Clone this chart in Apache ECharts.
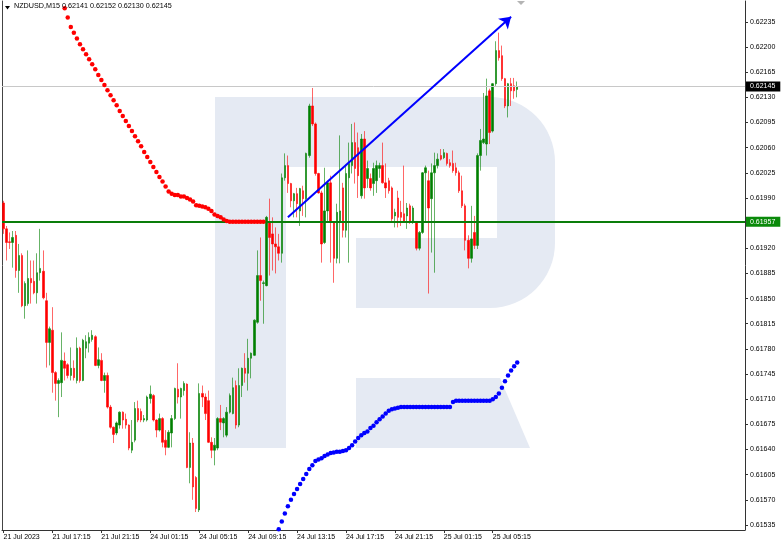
<!DOCTYPE html>
<html><head><meta charset="utf-8">
<script src="https://cdn.jsdelivr.net/npm/echarts@6/dist/echarts.min.js"></script>
<style>html,body{margin:0;padding:0;background:#fff}#c{width:782px;height:546px}</style>
</head><body><div id="c"></div>
<script>
const symbolName = 'NZDUSD,M15';
const lastQuote = ['0.62141', '0.62152', '0.62130', '0.62145'];
const xTickLabels = ['21 Jul 2023','21 Jul 17:15','21 Jul 21:15','24 Jul 01:15','24 Jul 05:15','24 Jul 09:15','24 Jul 13:15','24 Jul 17:15','24 Jul 21:15','25 Jul 01:15','25 Jul 05:15'];
const yTickLabels = [0.61535,0.61570,0.61605,0.61640,0.61675,0.61710,0.61745,0.61780,0.61815,0.61850,0.61885,0.61920,0.61990,0.62025,0.62060,0.62095,0.62130,0.62165,0.62200,0.62235];

const open = [0.61983,0.61947,0.61929,0.61928,0.61938,0.61889,0.61910,0.61840,0.61843,0.61878,0.61874,0.61858,0.61886,0.61888,0.61847,0.61789,0.61806,0.61747,0.61732,0.61733,
0.61763,0.61758,0.61743,0.61753,0.61736,0.61781,0.61736,0.61781,0.61788,0.61793,0.61797,0.61757,0.61764,0.61736,0.61743,0.61699,0.61671,0.61663,0.61674,0.61692,
0.61682,0.61674,0.61639,0.61653,0.61697,0.61693,0.61681,0.61681,0.61711,0.61715,0.61681,0.61667,0.61683,0.61653,0.61643,0.61663,0.61683,0.61724,0.61713,0.61722,
0.61731,0.61615,0.61649,0.61601,0.61556,0.61718,0.61713,0.61708,0.61650,0.61639,0.61642,0.61683,0.61677,0.61660,0.61692,0.61690,0.61729,0.61674,0.61729,0.61753,
0.61746,0.61767,0.61771,0.61817,0.61882,0.61871,0.61868,0.61956,0.61940,0.61926,0.61922,0.61913,0.62018,0.62035,0.62010,0.61986,0.61996,0.61972,0.62000,0.61989,
0.62049,0.62118,0.62093,0.62024,0.61997,0.61928,0.61972,0.62011,0.61956,0.61906,0.61958,0.62004,0.61945,0.62018,0.62035,0.62067,0.62060,0.61993,0.62072,0.62017,
0.62017,0.62010,0.62014,0.62031,0.62035,0.62011,0.62014,0.62004,0.61965,0.61990,0.61970,0.61968,0.61965,0.61979,0.61958,0.61956,0.61920,0.61942,0.62025,0.62014,
0.61989,0.62025,0.62035,0.62049,0.62046,0.62052,0.62039,0.62038,0.62032,0.62025,0.62000,0.61979,0.61931,0.61906,0.61942,0.61924,0.62049,0.62067,0.62065,0.62139,
0.62083,0.62149,0.62195,0.62188,0.62156,0.62118,0.62149,0.62146,0.62141];
const close = [0.61947,0.61928,0.61928,0.61935,0.61889,0.61910,0.61840,0.61871,0.61878,0.61872,0.61858,0.61886,0.61892,0.61851,0.61789,0.61808,0.61747,0.61732,0.61736,0.61764,
0.61753,0.61743,0.61753,0.61740,0.61781,0.61736,0.61792,0.61790,0.61796,0.61799,0.61757,0.61765,0.61736,0.61743,0.61699,0.61671,0.61661,0.61677,0.61692,0.61681,
0.61674,0.61642,0.61650,0.61697,0.61681,0.61681,0.61683,0.61713,0.61717,0.61681,0.61667,0.61683,0.61650,0.61643,0.61664,0.61683,0.61725,0.61713,0.61725,0.61732,
0.61615,0.61649,0.61588,0.61558,0.61718,0.61713,0.61690,0.61650,0.61639,0.61646,0.61683,0.61678,0.61683,0.61692,0.61715,0.61726,0.61674,0.61729,0.61753,0.61746,
0.61767,0.61774,0.61820,0.61882,0.61875,0.61872,0.61963,0.61935,0.61926,0.61922,0.61913,0.62018,0.62035,0.62010,0.61986,0.61996,0.61982,0.62003,0.61989,0.62052,
0.62118,0.62093,0.62024,0.61997,0.61926,0.61972,0.62011,0.61956,0.61906,0.61970,0.61972,0.61945,0.62024,0.62038,0.62067,0.62031,0.62021,0.62072,0.62004,0.62031,
0.62004,0.62031,0.62035,0.62035,0.62011,0.62004,0.62000,0.61961,0.61970,0.61963,0.61963,0.61958,0.61976,0.61956,0.61976,0.61920,0.61942,0.62025,0.62032,0.61976,
0.62025,0.62035,0.62044,0.62044,0.62053,0.62038,0.62035,0.62028,0.62025,0.62000,0.61979,0.61931,0.61906,0.61933,0.61924,0.62049,0.62070,0.62072,0.62132,0.62081,
0.62149,0.62195,0.62185,0.62156,0.62118,0.62149,0.62139,0.62139,0.62145];
const low = [0.61940,0.61903,0.61919,0.61893,0.61879,0.61858,0.61838,0.61822,0.61840,0.61843,0.61856,0.61843,0.61875,0.61849,0.61754,0.61757,0.61719,0.61708,0.61685,0.61713,
0.61736,0.61739,0.61736,0.61736,0.61732,0.61733,0.61735,0.61767,0.61775,0.61790,0.61756,0.61753,0.61735,0.61719,0.61697,0.61669,0.61649,0.61660,0.61669,0.61669,
0.61669,0.61639,0.61635,0.61650,0.61678,0.61678,0.61678,0.61679,0.61704,0.61679,0.61657,0.61665,0.61643,0.61632,0.61642,0.61643,0.61681,0.61704,0.61683,0.61715,
0.61614,0.61593,0.61570,0.61553,0.61553,0.61699,0.61681,0.61649,0.61628,0.61618,0.61639,0.61667,0.61657,0.61657,0.61690,0.61689,0.61669,0.61671,0.61713,0.61733,
0.61722,0.61739,0.61770,0.61815,0.61847,0.61815,0.61867,0.61882,0.61889,0.61885,0.61903,0.61900,0.62014,0.61997,0.61977,0.61963,0.61963,0.61951,0.61965,0.61963,
0.62046,0.62090,0.62021,0.61996,0.61900,0.61926,0.61958,0.61900,0.61872,0.61899,0.61899,0.61935,0.61935,0.61900,0.62024,0.62010,0.61990,0.61989,0.61989,0.62004,
0.62000,0.61993,0.61997,0.62018,0.62010,0.61990,0.61996,0.61958,0.61949,0.61949,0.61951,0.61956,0.61947,0.61954,0.61954,0.61917,0.61917,0.61940,0.61956,0.61857,
0.61914,0.61886,0.62031,0.62042,0.62044,0.62035,0.62032,0.62025,0.62021,0.61997,0.61976,0.61917,0.61892,0.61900,0.61919,0.61919,0.62028,0.62065,0.62049,0.62065,
0.62081,0.62146,0.62181,0.62153,0.62115,0.62102,0.62118,0.62128,0.62130];
const high = [0.61986,0.61951,0.61942,0.61944,0.61944,0.61926,0.61913,0.61874,0.61917,0.61903,0.61903,0.61913,0.61947,0.61917,0.61858,0.61811,0.61838,0.61749,0.61739,0.61803,
0.61775,0.61760,0.61782,0.61764,0.61796,0.61783,0.61794,0.61799,0.61803,0.61806,0.61799,0.61782,0.61774,0.61747,0.61747,0.61702,0.61672,0.61679,0.61693,0.61693,
0.61690,0.61675,0.61681,0.61706,0.61708,0.61697,0.61688,0.61715,0.61729,0.61717,0.61682,0.61690,0.61685,0.61667,0.61667,0.61688,0.61726,0.61760,0.61726,0.61735,
0.61732,0.61664,0.61656,0.61603,0.61732,0.61729,0.61718,0.61722,0.61657,0.61656,0.61685,0.61702,0.61685,0.61699,0.61718,0.61740,0.61736,0.61753,0.61754,0.61774,
0.61794,0.61775,0.61821,0.61917,0.61935,0.61875,0.61965,0.61989,0.61963,0.61949,0.61940,0.62024,0.62052,0.62049,0.62011,0.61997,0.62004,0.62004,0.62007,0.62053,
0.62121,0.62143,0.62095,0.62025,0.62000,0.62032,0.62014,0.62021,0.61957,0.61982,0.62077,0.62011,0.62035,0.62067,0.62093,0.62095,0.62081,0.62079,0.62083,0.62042,
0.62024,0.62039,0.62042,0.62039,0.62067,0.62038,0.62018,0.62006,0.61975,0.62000,0.61986,0.62035,0.61983,0.61982,0.61979,0.61958,0.61944,0.62026,0.62035,0.62028,
0.62038,0.62053,0.62052,0.62058,0.62058,0.62053,0.62044,0.62056,0.62039,0.62028,0.62021,0.61982,0.61938,0.61979,0.61965,0.62052,0.62086,0.62136,0.62156,0.62142,
0.62150,0.62208,0.62220,0.62202,0.62157,0.62150,0.62157,0.62157,0.62152];

const redDotsStart = 20;
const redDots = [0.62254,0.62241,0.62228,0.62220,0.62212,0.62204,0.62197,0.62190,0.62183,0.62176,0.62169,0.62161,0.62154,0.62147,0.62140,0.62133,0.62126,0.62119,0.62111,0.62104,
0.62097,0.62090,0.62083,0.62076,0.62069,0.62062,0.62054,0.62047,0.62040,0.62033,0.62026,0.62019,0.62013,0.62006,0.61999,0.61996,0.61994,0.61994,0.61992,0.61992,
0.61990,0.61988,0.61985,0.61980,0.61979,0.61978,0.61977,0.61975,0.61972,0.61967,0.61965,0.61963,0.61960,0.61958,
0.61957,0.61957,0.61957,0.61957,0.61957,0.61957,0.61957,0.61957,0.61957,0.61957,0.61957,0.61957];
const blueDotsStart = 90;
const blueDots = [0.61529,0.61540,0.61551,0.61561,0.61570,0.61578,0.61585,0.61592,0.61599,0.61606,0.61613,0.61618,0.61624,0.61626,0.61628,0.61631,0.61633,0.61635,0.61636,0.61637,
0.61637,0.61638,0.61639,0.61642,0.61646,0.61651,0.61656,0.61660,0.61663,0.61665,0.61670,0.61673,0.61678,0.61682,0.61686,0.61690,0.61694,0.61696,0.61697,0.61698,
0.61699,0.61699,0.61699,0.61699,0.61699,0.61699,0.61699,0.61699,0.61699,0.61699,0.61699,0.61699,0.61699,0.61699,0.61699,0.61699,0.61699,
0.61706,0.61708,0.61708,0.61708,0.61708,0.61708,0.61708,0.61708,0.61708,0.61708,0.61708,0.61708,0.61708,
0.61710,0.61713,0.61718,0.61726,0.61735,0.61743,0.61750,0.61756,0.61761];

const levelPrice = 0.61957;
const bidPrice = 0.62145;
const arrowStart = [93, 0.61963];
const arrowEnd = [166, 0.62242];

const months = ['Jan','Feb','Mar','Apr','May','Jun','Jul','Aug','Sep','Oct','Nov','Dec'];
const categories = [];
(function(){
  let t = Date.UTC(2023, 6, 21, 13, 15);
  const p = n => (n < 10 ? '0' : '') + n;
  while (categories.length < 243) {
    const d = new Date(t);
    const wd = d.getUTCDay();
    if (wd !== 0 && wd !== 6) {
      categories.push(d.getUTCDate() + ' ' + months[d.getUTCMonth()] + ' ' + p(d.getUTCHours()) + ':' + p(d.getUTCMinutes()));
    }
    t += 15 * 60000;
  }
})();

const ohlc = open.map((o, i) => [o, close[i], low[i], high[i]]);
function padSeries(start, vals) {
  const arr = new Array(categories.length).fill(null);
  vals.forEach((v, i) => { arr[start + i] = v; });
  return arr;
}

const FONT = 'Liberation Sans, Arial, sans-serif';
const LOGO = '#e5eaf3';
const chart = echarts.init(document.getElementById('c'), null, {renderer: 'canvas'});
const tickShow = (idx) => idx % 16 === 0 && idx / 16 < xTickLabels.length;
const boxLabel = (txt, bg) => ({show: true, position: 'end', distance: 1, formatter: txt, backgroundColor: bg, color: '#fff', fontSize: 7, fontFamily: FONT, padding: [2, 5, 1, 4]});

chart.setOption({
  animation: false,
  backgroundColor: '#ffffff',
  grid: {left: 2, right: 37, top: 1, bottom: 16, containLabel: false},
  graphic: [
    {type: 'rect', z: 0, silent: true, shape: {x: 215, y: 97, width: 340, height: 211, r: [0, 65, 65, 0]}, style: {fill: LOGO}},
    {type: 'rect', z: 0, silent: true, shape: {x: 215, y: 97, width: 71, height: 351}, style: {fill: LOGO}},
    {type: 'rect', z: 0, silent: true, shape: {x: 286, y: 167, width: 211, height: 71}, style: {fill: '#ffffff'}},
    {type: 'rect', z: 0, silent: true, shape: {x: 286, y: 238, width: 70, height: 70}, style: {fill: '#ffffff'}},
    {type: 'polygon', z: 0, silent: true, shape: {points: [[356, 378], [500, 378], [530, 448], [356, 448]]}, style: {fill: LOGO}},
    {type: 'polygon', z: 10, silent: true, shape: {points: [[5, 6], [10, 6], [7.5, 9.5]]}, style: {fill: '#000'}},
    {type: 'text', z: 10, silent: true, left: 14, top: 3, style: {text: symbolName + ' ' + lastQuote.join(' '), font: '7.2px ' + FONT, fill: '#000'}},
    {type: 'polygon', z: 10, silent: true, shape: {points: [[517, 1], [525, 1], [521, 5]]}, style: {fill: '#b4b4b4'}}
  ],
  xAxis: {
    type: 'category', data: categories, boundaryGap: true,
    axisLine: {show: true, lineStyle: {color: '#333', width: 1}},
    axisTick: {show: true, alignWithLabel: true, interval: tickShow, length: 3, lineStyle: {color: '#333'}},
    axisLabel: {interval: tickShow, formatter: (v, i) => xTickLabels[i / 16], align: 'left', margin: 4, fontSize: 7, fontFamily: FONT, color: '#000'},
    splitLine: {show: false}
  },
  yAxis: [{
    type: 'value', position: 'right', min: 0.61528, max: 0.62264,
    axisLine: {show: true, lineStyle: {color: '#333', width: 1}},
    axisTick: {show: true, customValues: yTickLabels, length: 3, lineStyle: {color: '#333'}},
    axisLabel: {customValues: yTickLabels, formatter: v => v.toFixed(5), margin: 5, fontSize: 7, fontFamily: FONT, color: '#000'},
    splitLine: {show: false}
  }, {
    type: 'value', position: 'left', min: 0.61528, max: 0.62264,
    axisLine: {show: true, lineStyle: {color: '#444', width: 1}},
    axisTick: {show: false}, axisLabel: {show: false}, splitLine: {show: false}
  }],
  series: [
    {
      type: 'line', name: 'levels', data: padSeries(0, []), symbol: 'none', z: 5,
      lineStyle: {width: 0, opacity: 0},
      markLine: {
        silent: true, symbol: 'none', animation: false, precision: 5,
        data: [
          {yAxis: bidPrice, lineStyle: {color: '#c8c8c8', width: 1, type: 'solid'}, label: boxLabel(bidPrice.toFixed(5), '#000')},
          {yAxis: levelPrice, lineStyle: {color: '#0a7d0a', width: 2, type: 'solid'}, label: boxLabel(levelPrice.toFixed(5), '#0a8a0a')}
        ]
      }
    },
    {
      type: 'candlestick', name: 'NZDUSD', data: ohlc, barWidth: 2, z: 3,
      itemStyle: {color: '#008000', color0: '#ff0000', borderColor: '#008000', borderColor0: '#ff0000', borderWidth: 0.6}
    },
    {
      type: 'line', name: 'upper', data: padSeries(redDotsStart, redDots), symbol: 'circle', symbolSize: 4.5, showAllSymbol: true, z: 6,
      itemStyle: {color: '#ff0000'}, lineStyle: {width: 0, opacity: 0}, connectNulls: false
    },
    {
      type: 'line', name: 'lower', data: padSeries(blueDotsStart, blueDots), symbol: 'circle', symbolSize: 4.5, showAllSymbol: true, z: 6,
      itemStyle: {color: '#0000ff'}, lineStyle: {width: 0, opacity: 0}, connectNulls: false,
      markLine: {
        silent: true, animation: false, precision: 5, symbol: ['none', 'arrow'], symbolSize: 11,
        lineStyle: {color: '#0000ff', width: 2, type: 'solid'}, label: {show: false},
        data: [[{coord: [categories[arrowStart[0]], arrowStart[1]]}, {coord: [categories[arrowEnd[0]], arrowEnd[1]]}]]
      }
    }
  ]
});
</script>
</body></html>
